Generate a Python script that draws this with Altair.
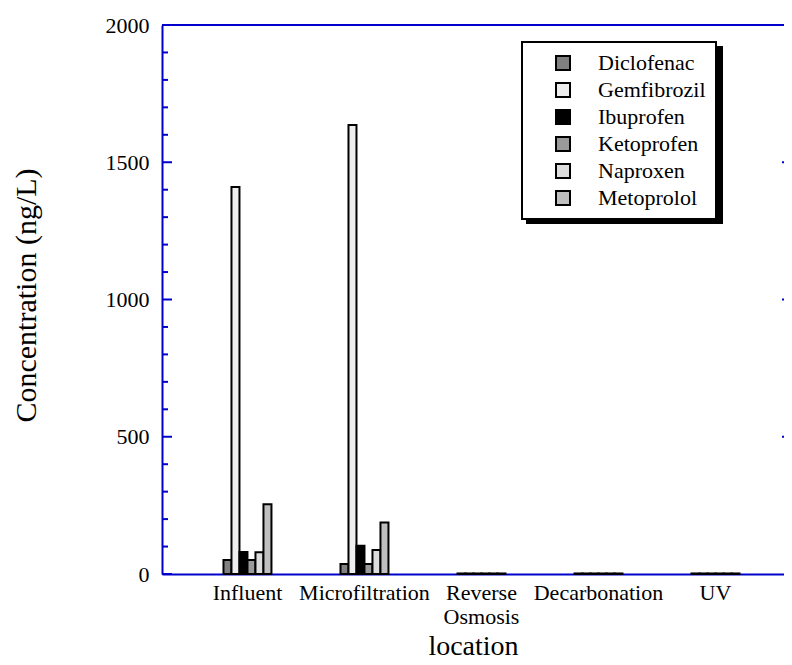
import altair as alt
import pandas as pd

locations = ["Influent", "Microfiltration", "Reverse Osmosis", "Decarbonation", "UV"]
compounds = ["Diclofenac", "Gemfibrozil", "Ibuprofen", "Ketoprofen", "Naproxen", "Metoprolol"]
colors = ["#808080", "#eeeeee", "#000000", "#9a9a9a", "#dddddd", "#bfbfbf"]

diclofenac = [51, 36, 2, 2, 2]
gemfibrozil = [1410, 1636, 2, 2, 2]
ibuprofen = [80, 103, 2, 2, 2]
ketoprofen = [51, 36, 2, 2, 2]
naproxen = [79, 87, 2, 2, 2]
metoprolol = [254, 188, 2, 2, 2]

major_ticks = [0, 500, 1000, 1500, 2000]
minor_ticks = [v for v in range(0, 2001, 100) if v % 500 != 0]
right_ticks = [500, 1000, 1500]

series = [diclofenac, gemfibrozil, ibuprofen, ketoprofen, naproxen, metoprolol]
rows = []
for comp, vals in zip(compounds, series):
    for loc, v in zip(locations, vals):
        rows.append({"location": loc, "compound": comp, "value": v})
df = pd.DataFrame(rows)

BLUE = "#0000cc"
FONT = "Liberation Serif"
W, H = 622, 549

yscale = alt.Scale(domain=[0, 2000], nice=False)
yaxis = alt.Axis(
    title="Concentration (ng/L)",
    values=major_ticks,
    format="d",
    ticks=False,
    grid=False,
    domainColor=BLUE,
    domainWidth=2,
    labelPadding=13,
    labelFontSize=22,
    titleFontSize=30,
    titleFontWeight="normal",
    titlePadding=64,
    titleY=270,
)

bars = alt.Chart(df).mark_bar(stroke="black", strokeWidth=2).encode(
    x=alt.X(
        "location:N",
        sort=locations,
        scale=alt.Scale(paddingInner=0.59, paddingOuter=0.453, align=0.58),
        axis=alt.Axis(
            title="location",
            labelAngle=0,
            ticks=False,
            domainColor=BLUE,
            domainWidth=2,
            labelPadding=8,
            labelFontSize=22,
            labelLineHeight=24,
            labelExpr="datum.label == 'Reverse Osmosis' ? ['Reverse', 'Osmosis'] : datum.label",
            titleFontSize=28,
            titleFontWeight="normal",
            titlePadding=5,
        ),
    ),
    xOffset=alt.XOffset("compound:N", sort=compounds, scale=alt.Scale(paddingInner=0, paddingOuter=0)),
    y=alt.Y("value:Q", scale=yscale, axis=yaxis),
    color=alt.Color(
        "compound:N",
        sort=compounds,
        scale=alt.Scale(domain=compounds, range=colors),
        legend=alt.Legend(
            title=None,
            orient="none",
            legendX=360,
            legendY=17,
            padding=10,
            symbolOffset=20,
            symbolType="square",
            symbolSize=196,
            symbolStrokeColor="black",
            symbolStrokeWidth=2,
            symbolOpacity=1,
            labelFontSize=22,
            labelOffset=24,
            rowPadding=5,
            fillColor="white",
            strokeColor="black",
        ),
    ),
)

major_df = pd.DataFrame({"value": major_ticks})
minor_df = pd.DataFrame({"value": minor_ticks})
right_df = pd.DataFrame({"value": right_ticks})

major = alt.Chart(major_df).mark_rule(color=BLUE, strokeWidth=2).encode(
    y=alt.Y("value:Q", scale=yscale, axis=yaxis), x=alt.value(0), x2=alt.value(10)
)
minor = alt.Chart(minor_df).mark_rule(color=BLUE, strokeWidth=2).encode(
    y=alt.Y("value:Q", scale=yscale, axis=yaxis), x=alt.value(0), x2=alt.value(6)
)
right = alt.Chart(right_df).mark_rule(color=BLUE, strokeWidth=2).encode(
    y=alt.Y("value:Q", scale=yscale, axis=yaxis), x=alt.value(W - 2), x2=alt.value(W)
)
top = alt.Chart(major_df).mark_rule(color=BLUE, strokeWidth=2).encode(
    x=alt.value(0), x2=alt.value(W), y=alt.value(0)
)
shadow = alt.Chart(pd.DataFrame({"value": [0]})).mark_rect(color="black", opacity=1).encode(
    x=alt.value(364), x2=alt.value(561), y=alt.value(21), y2=alt.value(199)
)

chart = (
    alt.layer(shadow, bars, major, minor, right, top)
    .properties(
        width=W,
        height=H,
        autosize=alt.AutoSizeParams(type="none"),
        padding={"left": 154, "top": 17, "right": 0, "bottom": 85},
    )
    .configure(font=FONT)
    .configure_view(stroke=None)
    .configure_axis(labelColor="black", titleColor="black", labelFont=FONT, titleFont=FONT)
    .configure_legend(labelFont=FONT, labelColor="black", strokeWidth=2)
)

chart.save("out.html", embed_options={"renderer": "svg", "actions": False})
